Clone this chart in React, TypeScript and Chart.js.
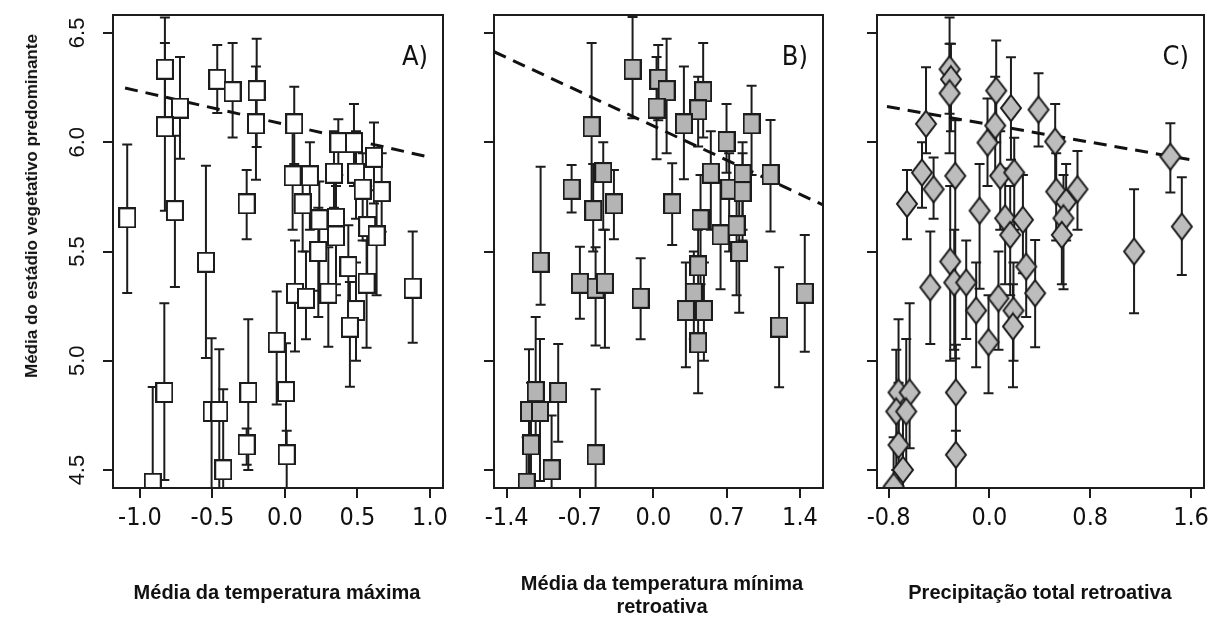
import React, { useEffect, useRef } from "react";
import { Chart, registerables } from "chart.js";

Chart.register(...registerables);

// ---------- shared axis ----------
const yTicks = [4.5, 5.0, 5.5, 6.0, 6.5];
const yMin = 4.418;
const yMax = 6.582;

// ---------- Panel A: Média da temperatura máxima ----------
const aTicks = [-1.0, -0.5, 0.0, 0.5, 1.0];
const aX = [-1.088, -0.828, -0.724, -0.828, -0.759, -0.467, -0.361, -0.195, -0.2, -0.264, -0.545, 0.064, 0.053, 0.172, 0.338, 0.368, 0.476, 0.614, 0.49, 0.536, 0.667, 0.122, 0.237, 0.352, 0.567, 0.632, 0.352, 0.23, 0.437, 0.563, 0.069, 0.145, 0.299, 0.49, 0.448, -0.057, 0.007, 0.881, -0.832, -0.912, -0.506, -0.453, -0.426, -0.253, -0.264, 0.012];
const aY = [5.654, 6.334, 6.156, 6.071, 5.687, 6.288, 6.231, 6.236, 6.084, 5.718, 5.451, 6.084, 5.846, 5.846, 5.858, 5.998, 5.998, 5.931, 5.858, 5.785, 5.774, 5.718, 5.645, 5.652, 5.614, 5.571, 5.571, 5.5, 5.431, 5.355, 5.309, 5.286, 5.309, 5.23, 5.154, 5.085, 4.859, 5.332, 4.855, 4.44, 4.768, 4.768, 4.501, 4.855, 4.615, 4.57];
const aLo = [5.31, 6.1, 5.924, 5.687, 5.338, 6.134, 6.021, 5.978, 5.828, 5.556, 5.013, 5.9, 5.6, 5.6, 5.7, 5.85, 5.8, 5.72, 5.65, 5.55, 5.59, 5.5, 5.32, 5.35, 5.35, 5.3, 5.3, 5.2, 5.15, 5.06, 5.042, 5.099, 5.064, 5.0, 4.881, 4.8, 4.6, 5.082, 4.455, 4.2, 4.4, 4.4, 4.2, 4.5, 4.524, 4.3];
const aHi = [5.99, 6.57, 6.39, 6.454, 6.03, 6.445, 6.454, 6.473, 6.346, 5.873, 5.892, 6.254, 6.05, 6.0, 6.05, 6.105, 6.175, 6.09, 6.05, 5.95, 5.95, 5.87, 5.82, 5.85, 5.8, 5.78, 5.8, 5.7, 5.62, 5.55, 5.55, 5.5, 5.52, 5.45, 5.36, 5.317, 5.08, 5.591, 5.263, 4.88, 5.103, 5.053, 4.87, 5.19, 4.69, 4.68];
const aLineX = [-1.103, 0.986];
const aLineY = [6.248, 5.933];

// ---------- Panel B: Média da temperatura mínima retroativa ----------
const bTicks = [-1.4, -0.7, 0.0, 0.7, 1.4];
const bX = [-0.198, 0.047, 0.127, 0.031, 0.476, 0.428, 0.292, -0.589, 0.699, 0.938, 0.549, 0.724, 0.852, 0.852, 1.119, -0.78, -0.478, -0.574, -0.376, 0.18, 0.451, 0.642, 0.795, 0.82, -1.076, -0.701, -0.551, -0.462, -0.121, 0.428, 0.387, 0.311, 0.483, 0.428, 1.201, 1.446, -1.123, -0.908, -1.187, -1.082, -1.168, -0.971, -1.209, -0.551];
const bY = [6.334, 6.288, 6.236, 6.156, 6.231, 6.148, 6.084, 6.071, 6.003, 6.084, 5.858, 5.785, 5.852, 5.774, 5.852, 5.785, 5.861, 5.687, 5.718, 5.718, 5.645, 5.576, 5.618, 5.5, 5.451, 5.355, 5.332, 5.355, 5.286, 5.434, 5.309, 5.23, 5.23, 5.082, 5.154, 5.309, 4.859, 4.855, 4.768, 4.768, 4.615, 4.501, 4.44, 4.57];
const bLo = [6.11, 6.1, 5.95, 5.922, 6.021, 5.98, 5.83, 5.69, 5.86, 5.85, 5.6, 5.5, 5.6, 5.55, 5.591, 5.678, 5.6, 5.5, 5.556, 5.53, 5.35, 5.327, 5.3, 5.22, 5.256, 5.192, 5.07, 5.06, 5.099, 5.2, 5.1, 4.971, 5.0, 4.852, 4.879, 5.041, 4.6, 4.63, 4.4, 4.45, 4.35, 4.3, 4.2, 4.2];
const bHi = [6.573, 6.445, 6.473, 6.39, 6.454, 6.3, 6.346, 6.454, 6.175, 6.258, 6.05, 5.95, 6.0, 5.95, 6.102, 5.896, 6.0, 5.9, 5.873, 5.904, 5.85, 5.82, 5.8, 5.75, 5.888, 5.522, 5.52, 5.6, 5.469, 5.6, 5.5, 5.45, 5.45, 5.3, 5.428, 5.576, 5.2, 5.077, 5.053, 5.1, 4.9, 4.75, 4.65, 4.87];
const bLineX = [-1.521, 1.62];
const bLineY = [6.414, 5.713];

// ---------- Panel C: Precipitação total retroativa ----------
const cTicks = [-0.8, 0.0, 0.8, 1.6];
const cX = [-0.316, -0.305, -0.316, 0.054, 0.171, 0.39, -0.503, 0.046, -0.015, 0.522, 1.436, -0.535, -0.443, -0.271, -0.654, -0.078, 0.086, 0.197, 0.53, 0.609, 0.699, 0.588, 0.125, 0.266, 0.165, 0.575, 1.527, 1.148, -0.311, -0.279, -0.469, -0.184, -0.105, 0.072, 0.191, 0.187, -0.007, 0.292, 0.363, -0.721, -0.633, -0.739, -0.66, -0.721, -0.686, -0.76, -0.266, -0.266];
const cY = [6.334, 6.288, 6.224, 6.236, 6.156, 6.149, 6.084, 6.076, 5.998, 6.003, 5.934, 5.861, 5.785, 5.846, 5.718, 5.687, 5.846, 5.861, 5.774, 5.727, 5.785, 5.652, 5.652, 5.645, 5.576, 5.576, 5.614, 5.5, 5.454, 5.358, 5.336, 5.358, 5.23, 5.286, 5.23, 5.157, 5.085, 5.431, 5.309, 4.855, 4.855, 4.768, 4.768, 4.615, 4.501, 4.425, 4.855, 4.57];
const cLo = [6.13, 6.05, 5.95, 6.0, 5.92, 5.98, 5.95, 5.85, 5.8, 5.8, 5.77, 5.7, 5.65, 5.01, 5.556, 5.33, 5.6, 5.6, 5.55, 5.55, 5.6, 5.327, 5.35, 5.4, 5.3, 5.35, 5.393, 5.218, 5.0, 5.05, 5.077, 5.1, 4.971, 5.05, 5.0, 4.879, 4.852, 5.2, 5.062, 4.6, 4.6, 4.5, 4.5, 4.35, 4.3, 4.2, 4.6, 4.3];
const cHi = [6.57, 6.45, 6.45, 6.465, 6.389, 6.316, 6.343, 6.3, 6.2, 6.175, 6.087, 6.0, 5.93, 6.1, 5.873, 5.9, 6.05, 6.02, 5.95, 5.9, 5.96, 5.85, 5.88, 5.85, 5.8, 5.77, 5.84, 5.785, 5.8, 5.6, 5.591, 5.55, 5.45, 5.5, 5.45, 5.35, 5.3, 5.65, 5.553, 5.19, 5.263, 5.05, 5.1, 4.9, 4.75, 4.65, 5.073, 4.68];
const cLineX = [-0.813, 1.603];
const cLineY = [6.163, 5.919];

// ---------- text ----------
const yTitle = "Média do estádio vegetativo predominante";
const titleA = ["Média da temperatura máxima"];
const titleB = ["Média da temperatura mínima", "retroativa"];
const titleC = ["Precipitação total retroativa"];

const TICK_FONT = "'Liberation Sans Narrow', 'Arial Narrow', 'DejaVu Sans Condensed', sans-serif";
const TEXT_FONT = "'Liberation Sans', Arial, sans-serif";
const INK = "#1c1c1c";

type Panel = {
  tag: string;
  left: number;
  width: number;
  yAxisW: number;
  padRight: number;
  xMin: number;
  xMax: number;
  xTicks: number[];
  xs: number[];
  ys: number[];
  lo: number[];
  hi: number[];
  lineX: number[];
  lineY: number[];
  marker: "square" | "diamond";
  fill: string;
  yLabels: boolean;
};

const panels: Panel[] = [
  { tag: "A)", left: 0, width: 460, yAxisW: 113, padRight: 17, xMin: -1.186, xMax: 1.09, xTicks: aTicks, xs: aX, ys: aY, lo: aLo, hi: aHi, lineX: aLineX, lineY: aLineY, marker: "square", fill: "#ffffff", yLabels: true },
  { tag: "B)", left: 460, width: 380, yAxisW: 34, padRight: 17, xMin: -1.521, xMax: 1.62, xTicks: bTicks, xs: bX, ys: bY, lo: bLo, hi: bHi, lineX: bLineX, lineY: bLineY, marker: "square", fill: "#b4b4b4", yLabels: false },
  { tag: "C)", left: 840, width: 385, yAxisW: 37, padRight: 21, xMin: -0.892, xMax: 1.703, xTicks: cTicks, xs: cX, ys: cY, lo: cLo, hi: cHi, lineX: cLineX, lineY: cLineY, marker: "diamond", fill: "#bdbdbd", yLabels: false },
];

function makeMarker(kind: "square" | "diamond", fill: string): HTMLCanvasElement {
  const c = document.createElement("canvas");
  const ctx = c.getContext("2d") as CanvasRenderingContext2D;
  if (kind === "square") {
    c.width = 18;
    c.height = 21;
    ctx.fillStyle = fill;
    ctx.fillRect(1, 1, 16, 19);
    ctx.strokeStyle = INK;
    ctx.lineWidth = 2;
    ctx.strokeRect(1, 1, 16, 19);
  } else {
    c.width = 24;
    c.height = 30;
    ctx.beginPath();
    ctx.moveTo(12, 2);
    ctx.lineTo(22, 15);
    ctx.lineTo(12, 28);
    ctx.lineTo(2, 15);
    ctx.closePath();
    ctx.fillStyle = fill;
    ctx.fill();
    ctx.strokeStyle = INK;
    ctx.lineWidth = 2;
    ctx.stroke();
  }
  return c;
}

const decoPlugin = {
  id: "panelDeco",
  beforeDatasetsDraw(chart: any) {
    const ds = chart.data.datasets[0];
    const { ctx, chartArea } = chart;
    const x = chart.scales.x;
    const y = chart.scales.y;
    ctx.save();
    ctx.beginPath();
    ctx.rect(chartArea.left, chartArea.top, chartArea.right - chartArea.left, chartArea.bottom - chartArea.top);
    ctx.clip();
    ctx.strokeStyle = INK;
    ctx.lineWidth = 2;
    ds.data.forEach((pt: any, i: number) => {
      const px = x.getPixelForValue(pt.x);
      const lo = y.getPixelForValue(ds.errLo[i]);
      const hi = y.getPixelForValue(ds.errHi[i]);
      ctx.beginPath();
      ctx.moveTo(px, lo);
      ctx.lineTo(px, hi);
      ctx.moveTo(px - 5, lo);
      ctx.lineTo(px + 5, lo);
      ctx.moveTo(px - 5, hi);
      ctx.lineTo(px + 5, hi);
      ctx.stroke();
    });
    ctx.restore();
  },
  afterDraw(chart: any, _args: any, opts: any) {
    const { ctx, chartArea } = chart;
    const y = chart.scales.y;
    ctx.save();
    ctx.strokeStyle = INK;
    ctx.lineWidth = 2;
    ctx.strokeRect(chartArea.left, chartArea.top, chartArea.right - chartArea.left, chartArea.bottom - chartArea.top);
    ctx.fillStyle = "#111";
    if (opts.yLabels) {
      ctx.font = `22px ${TEXT_FONT}`;
      ctx.textAlign = "center";
      ctx.textBaseline = "middle";
      yTicks.forEach((v) => {
        const py = y.getPixelForValue(v);
        ctx.save();
        ctx.translate(chartArea.left - 35, py);
        ctx.rotate(-Math.PI / 2);
        ctx.fillText(v.toFixed(1), 0, 0);
        ctx.restore();
      });
    }
    ctx.font = `27px ${TICK_FONT}`;
    ctx.textAlign = "right";
    ctx.textBaseline = "alphabetic";
    ctx.fillText(opts.tag, chartArea.right - 15, 65);
    ctx.restore();
  },
};

function PanelChart({ p }: { p: Panel }) {
  const ref = useRef<HTMLCanvasElement>(null);
  useEffect(() => {
    if (!ref.current) return;
    const marker = makeMarker(p.marker, p.fill);
    const chart = new Chart(ref.current, {
      type: "scatter",
      data: {
        datasets: [
          {
            type: "scatter",
            data: p.xs.map((x, i) => ({ x, y: p.ys[i] })),
            pointStyle: marker as any,
            pointRadius: 11,
            clip: 0,
            errLo: p.lo,
            errHi: p.hi,
          } as any,
          {
            type: "line",
            data: p.lineX.map((x, i) => ({ x, y: p.lineY[i] })),
            borderColor: "#111",
            borderWidth: 3,
            borderDash: [13, 8],
            pointRadius: 0,
            fill: false,
            clip: 0,
          } as any,
        ],
      },
      options: {
        animation: false,
        responsive: false,
        events: [],
        layout: { padding: { top: 15, right: p.padRight, left: 0, bottom: 0 } },
        plugins: {
          legend: { display: false },
          tooltip: { enabled: false },
          panelDeco: { tag: p.tag, yLabels: p.yLabels },
        } as any,
        scales: {
          x: {
            type: "linear",
            min: p.xMin,
            max: p.xMax,
            afterBuildTicks: (s: any) => {
              s.ticks = p.xTicks.map((v) => ({ value: v }));
            },
            afterFit: (s: any) => {
              s.height = 136;
            },
            grid: { drawOnChartArea: false, drawTicks: true, tickLength: 10, color: INK, lineWidth: 2 },
            border: { display: false },
            ticks: {
              autoSkip: false,
              maxRotation: 0,
              padding: 5,
              color: "#111",
              font: { family: TICK_FONT, size: 25 },
              callback: (v: any) => Number(v).toFixed(1),
            },
          },
          y: {
            type: "linear",
            min: yMin,
            max: yMax,
            afterBuildTicks: (s: any) => {
              s.ticks = yTicks.map((v) => ({ value: v }));
            },
            afterFit: (s: any) => {
              s.width = p.yAxisW;
            },
            grid: { drawOnChartArea: false, drawTicks: true, tickLength: 10, color: INK, lineWidth: 2 },
            border: { display: false },
            ticks: { display: false },
          },
        },
      } as any,
      plugins: [decoPlugin as any],
    });
    return () => chart.destroy();
  }, [p]);
  return (
    <canvas
      ref={ref}
      width={p.width}
      height={624}
      style={{ position: "absolute", left: p.left, top: 0, width: p.width, height: 624 }}
    />
  );
}

function XTitle({ lines, cx, cy }: { lines: string[]; cx: number; cy: number }) {
  return (
    <div
      style={{
        position: "absolute",
        left: cx,
        top: cy,
        transform: "translate(-50%, -50%)",
        whiteSpace: "nowrap",
        textAlign: "center",
        fontFamily: TEXT_FONT,
        fontWeight: "bold",
        fontSize: 20,
        lineHeight: "23px",
        color: "#111",
      }}
    >
      {lines.map((l, i) => (
        <div key={i}>{l}</div>
      ))}
    </div>
  );
}

export default function App() {
  return (
    <div style={{ position: "absolute", left: 0, top: 0, width: 1225, height: 624, background: "#fff", overflow: "hidden" }}>
      {panels.map((p) => (
        <PanelChart key={p.tag} p={p} />
      ))}
      <div
        style={{
          position: "absolute",
          left: 32,
          top: 206,
          transform: "translate(-50%, -50%) rotate(-90deg)",
          whiteSpace: "nowrap",
          fontFamily: TEXT_FONT,
          fontWeight: "bold",
          fontSize: 17,
          color: "#111",
        }}
      >
        {yTitle}
      </div>
      <XTitle lines={titleA} cx={277} cy={592} />
      <XTitle lines={titleB} cx={662} cy={595} />
      <XTitle lines={titleC} cx={1040} cy={592} />
    </div>
  );
}
